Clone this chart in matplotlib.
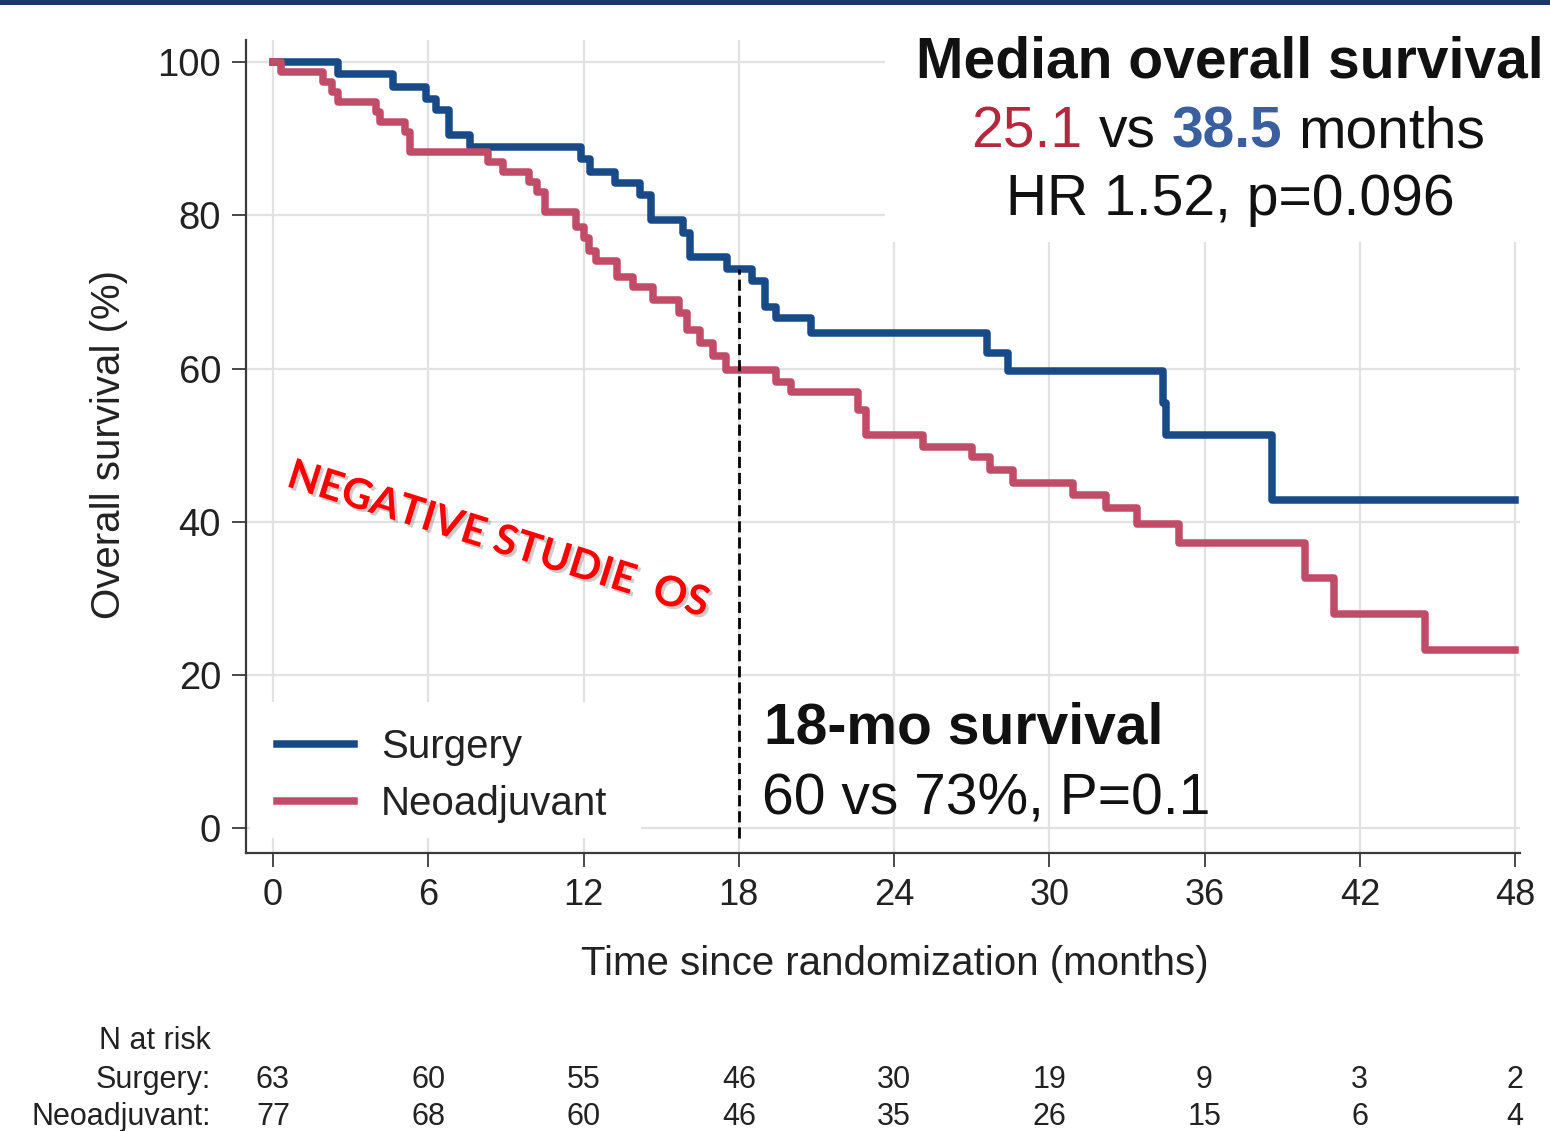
import matplotlib
matplotlib.use("Agg")
import matplotlib.pyplot as plt
import matplotlib.transforms as mtransforms
from matplotlib import font_manager, patheffects
from matplotlib.patches import Rectangle
from matplotlib.lines import Line2D

# Kaplan-Meier steps: month of each drop and % surviving after it
surgery_t = [0, 2.5, 4.65, 5.9, 6.3, 6.8, 7.6, 11.9, 12.25, 13.2, 14.2, 14.6,
             15.85, 16.1, 17.55, 18.5, 19.0, 19.45, 20.8, 27.6, 28.4, 34.4,
             34.5, 38.6, 48]
surgery_s = [100, 98.4, 96.8, 95.2, 93.7, 90.5, 88.9, 87.3, 85.7, 84.2, 82.6, 79.4,
             77.7, 74.6, 73.0, 71.4, 68.0, 66.6, 64.7, 62.0, 59.7, 55.5,
             51.3, 42.8, 42.8]

neo_t = [0, 0.3, 1.95, 2.27, 2.5, 4.0, 4.14, 5.1, 5.3, 8.3, 8.9, 9.9, 10.2,
         10.5, 11.7, 12.0, 12.2, 12.5, 13.3, 13.9, 14.7, 15.7, 16.0, 16.5,
         17.0, 17.5, 19.45, 20.0, 22.6, 22.9, 25.1, 27.0, 27.7, 28.6, 30.9,
         32.2, 33.4, 35.0, 39.9, 41.0, 44.5, 48]
neo_s = [100, 98.7, 97.4, 96.1, 94.8, 93.5, 92.2, 90.9, 88.3, 87.0, 85.7, 84.4,
         83.1, 80.5, 78.5, 77.0, 75.4, 74.1, 72.0, 70.7, 68.9, 67.2, 65.0,
         63.3, 61.7, 59.8, 58.2, 57.0, 54.6, 51.3, 49.8, 48.5, 46.8, 45.0,
         43.5, 41.8, 39.7, 37.2, 32.6, 28.0, 23.2, 23.2]

x_ticks = [0, 6, 12, 18, 24, 30, 36, 42, 48]
y_ticks = [0, 20, 40, 60, 80, 100]

risk_surgery = [63, 60, 55, 46, 30, 19, 9, 3, 2]
risk_neo = [77, 68, 60, 46, 35, 26, 15, 6, 4]

landmark_month = 18
landmark_surgery = 73
median_neo = "25.1"
median_surgery = "38.5"

BLUE = "#174a86"
RED = "#c04c68"
GRID = "#e2e2e2"
AXIS = "#3a3a3a"
LW = 5.4

W, H = 1550, 1131
plt.rcParams["font.family"] = ["Liberation Sans", "DejaVu Sans"]

installed = {f.name for f in font_manager.fontManager.ttflist}
narrow = "Liberation Sans Narrow" if "Liberation Sans Narrow" in installed else "Liberation Sans"
calib = "Lato" if "Lato" in installed else "Liberation Sans"

fig = plt.figure(figsize=(W / 100, H / 100), dpi=100)
fig.patch.set_facecolor("white")

# dark strip along the top edge
fig.add_artist(Rectangle((0, 1 - 5 / H), 1, 5 / H, transform=fig.transFigure,
                         facecolor="#1f3862", edgecolor="none"))

ax = fig.add_axes([246 / W, 1 - 853 / H, (1520 - 246) / W, (853 - 40) / H])
ax.set_xlim(-1.043, 48.19)
ax.set_ylim(-3.26, 102.9)

ax.set_axisbelow(True)
ax.grid(True, color=GRID, lw=1.6)
for side in ["top", "right"]:
    ax.spines[side].set_visible(False)
for side in ["left", "bottom"]:
    ax.spines[side].set_color(AXIS)
    ax.spines[side].set_linewidth(1.6)

ax.set_xticks(x_ticks)
ax.set_yticks(y_ticks)
ax.tick_params(axis="both", direction="out", length=10, width=1.3, color=AXIS,
               labelsize=26, labelcolor="#222222")
ax.tick_params(axis="x", pad=8)
ax.tick_params(axis="y", pad=8, labelsize=27.5)

# white panels behind the text blocks
ax.add_patch(Rectangle((-0.89, -1.3), 15.1, 17.7, facecolor="white",
                       edgecolor="none", zorder=1))
ax.add_patch(Rectangle((23.65, 76.5), 30, 40, facecolor="white",
                       edgecolor="none", zorder=1, clip_on=False))

ax.step(surgery_t, surgery_s, where="post", color=BLUE, lw=LW, zorder=3,
        label="Surgery")
ax.step(neo_t, neo_s, where="post", color=RED, lw=LW, zorder=3,
        label="Neoadjuvant")

ax.plot([landmark_month, landmark_month], [-1.3, landmark_surgery], color="black",
        lw=2.0, ls=(0, (4, 1.8)), zorder=4)

ax.set_ylabel("Overall survival (%)", fontsize=29, color="#222222")
ax.yaxis.set_label_coords(-0.0926, 0.502)
ax.set_xlabel("Time since randomization (months)", fontsize=29, color="#222222")
ax.xaxis.set_label_coords(0.509, -0.113)

handles = [Line2D([], [], color=BLUE, lw=LW), Line2D([], [], color=RED, lw=LW)]
ax.legend(handles, ["Surgery", "Neoadjuvant"], loc="upper left",
          bbox_to_anchor=(277 / W, 1 - 728 / H), bbox_transform=fig.transFigure,
          frameon=False, fontsize=29, handlelength=1.9, handletextpad=0.68,
          labelspacing=0.47, borderpad=0, borderaxespad=0, labelcolor="#222222")

# watermark
ax.text(8.7, 37.6, "NEGATIVE STUDIE  OS", color="#ff0000", fontsize=30,
        fontweight="bold", family=calib, rotation=-17.4, rotation_mode="anchor",
        ha="center", va="center", zorder=5,
        path_effects=[patheffects.withSimplePatchShadow(offset=(2, -2),
                                                        shadow_rgbFace="#9a9a9a",
                                                        alpha=0.5)])

# median survival block
fig.text(1230 / W, 1 - 78 / H, "Median overall survival", ha="center",
         va="baseline", fontsize=41, fontweight="bold", color="#111111")
fig.text(1230 / W, 1 - 215 / H, "HR 1.52, p=0.096", ha="center",
         va="baseline", fontsize=41, color="#111111")

fig.canvas.draw()
renderer = fig.canvas.get_renderer()


def text_width(s, **kw):
    t = fig.text(0, 0, s, **kw)
    w = t.get_window_extent(renderer).width
    t.remove()
    return w


pieces = [(median_neo, "#b3283c", "normal"), ("vs", "#111111", "normal"),
          (median_surgery, "#3a5f9e", "bold"), ("months", "#111111", "normal")]
space = text_width("n n", fontsize=41) - text_width("nn", fontsize=41)
widths = [text_width(s, fontsize=41, fontweight=wt) for s, c, wt in pieces]
x = 1228 - (sum(widths) + space * (len(pieces) - 1)) / 2
for (s, c, wt), w in zip(pieces, widths):
    fig.text(x / W, 1 - 148 / H, s, ha="left", va="baseline", fontsize=41,
             color=c, fontweight=wt)
    x += w + space

# landmark block
fig.text(764 / W, 1 - 743 / H, "18-mo survival", ha="left", va="baseline",
         fontsize=41, fontweight="bold", color="#111111")
fig.text(762 / W, 1 - 815 / H, "60 vs 73%, P=0.1", ha="left", va="baseline",
         fontsize=41, color="#111111")

# number at risk table
risk_tr = mtransforms.blended_transform_factory(ax.transData, fig.transFigure)
fig.text(211 / W, 1 - 1049 / H, "N at risk", ha="right", va="baseline",
         fontsize=22, family=narrow, color="#222222")
fig.text(211 / W, 1 - 1088 / H, "Surgery:", ha="right", va="baseline",
         fontsize=22, family=narrow, color="#222222")
fig.text(211 / W, 1 - 1125 / H, "Neoadjuvant:", ha="right", va="baseline",
         fontsize=22, family=narrow, color="#222222")
for t, ns, nn in zip(x_ticks, risk_surgery, risk_neo):
    ax.text(t, 1 - 1088 / H, str(ns), transform=risk_tr, ha="center",
            va="baseline", fontsize=22, family=narrow, color="#222222")
    ax.text(t, 1 - 1125 / H, str(nn), transform=risk_tr, ha="center",
            va="baseline", fontsize=22, family=narrow, color="#222222")

fig.savefig("out.png", dpi=100, facecolor="white")
